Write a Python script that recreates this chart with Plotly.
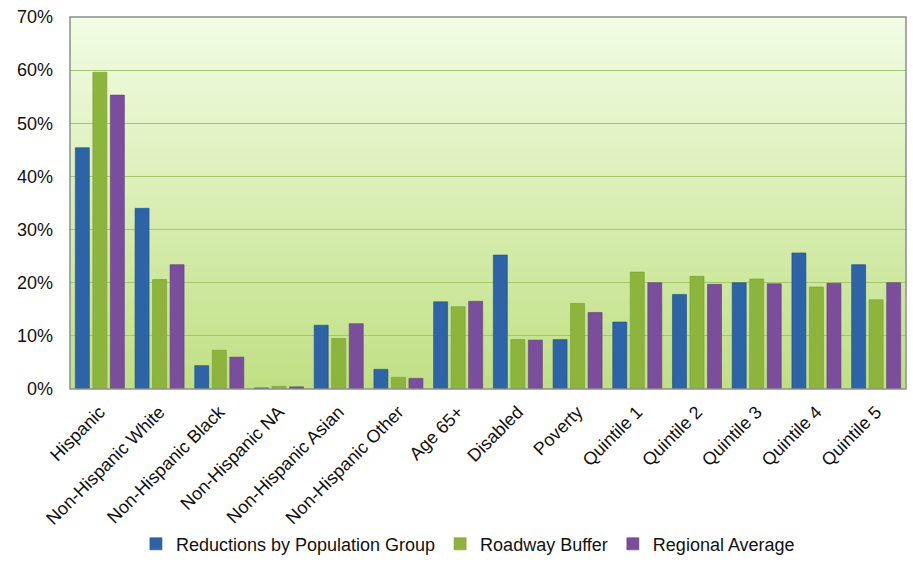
import plotly.graph_objects as go

categories = [
    "Hispanic", "Non-Hispanic White", "Non-Hispanic Black", "Non-Hispanic NA",
    "Non-Hispanic Asian", "Non-Hispanic Other", "Age 65+", "Disabled", "Poverty",
    "Quintile 1", "Quintile 2", "Quintile 3", "Quintile 4", "Quintile 5",
]

reductions = [0.454, 0.340, 0.044, 0.002, 0.120, 0.037, 0.164, 0.252, 0.093,
              0.126, 0.178, 0.200, 0.256, 0.234]
roadway_buffer = [0.596, 0.206, 0.073, 0.005, 0.095, 0.022, 0.155, 0.093, 0.161,
                  0.220, 0.212, 0.207, 0.192, 0.168]
regional_average = [0.553, 0.234, 0.060, 0.004, 0.123, 0.020, 0.165, 0.092, 0.144,
                     0.200, 0.197, 0.198, 0.199, 0.200]

series = [
    ("Reductions by Population Group", reductions, "#2C64A7", "#1F4E88"),
    ("Roadway Buffer", roadway_buffer, "#8DB43C", "#76A02C"),
    ("Regional Average", regional_average, "#7B4E9D", "#633E82"),
]

FONT = "Liberation Sans, Arial, sans-serif"
FONT_SIZE = 18

fig = go.Figure()
for name, vals, color, edge in series:
    fig.add_trace(go.Bar(
        x=categories, y=vals, name=name,
        marker=dict(color=color, line=dict(color=edge, width=0.6)),
    ))

# vertical light-to-green gradient behind the plot area
top_rgb = (242, 252, 228)
bot_rgb = (192, 224, 132)
n_strips = 80
shapes = []
for i in range(n_strips):
    t = i / (n_strips - 1)
    r = round(bot_rgb[0] + (top_rgb[0] - bot_rgb[0]) * t)
    g = round(bot_rgb[1] + (top_rgb[1] - bot_rgb[1]) * t)
    b = round(bot_rgb[2] + (top_rgb[2] - bot_rgb[2]) * t)
    shapes.append(dict(
        type="rect", xref="x domain", yref="y domain",
        x0=0, x1=1, y0=i / n_strips, y1=(i + 1) / n_strips + 0.002,
        fillcolor=f"rgb({r},{g},{b})", line=dict(width=0), layer="below",
    ))
# plot-area frame
shapes.append(dict(
    type="rect", xref="x domain", yref="y domain", x0=0, x1=1, y0=0, y1=1,
    line=dict(color="#8E8E8E", width=1.5), fillcolor="rgba(0,0,0,0)", layer="above",
))

fig.update_layout(
    width=913, height=569,
    margin=dict(l=70, r=7, t=17, b=178),
    paper_bgcolor="white", plot_bgcolor="white",
    barmode="group", bargap=0.12, bargroupgap=0.2,
    font=dict(family=FONT, size=FONT_SIZE, color="#111111"),
    shapes=shapes,
    showlegend=True,
    legend=dict(
        orientation="h", x=0.476, xanchor="center", y=-0.417, yanchor="middle",
        font=dict(family=FONT, size=FONT_SIZE, color="#111111"),
        traceorder="normal", itemwidth=30,
    ),
)
fig.update_yaxes(
    range=[0, 0.7], dtick=0.1, tickformat=".0%",
    showgrid=True, gridcolor="#A6C66C", gridwidth=1,
    zeroline=False, showline=False, ticks="", ticklabelstandoff=16,
    automargin=False,
    tickfont=dict(family=FONT, size=FONT_SIZE, color="#111111"),
)
fig.update_xaxes(
    tickangle=-45, showgrid=False, showline=False, ticks="", ticklabelstandoff=8,
    automargin=False,
    tickfont=dict(family=FONT, size=FONT_SIZE, color="#111111"),
)

fig.write_html("out.html")
